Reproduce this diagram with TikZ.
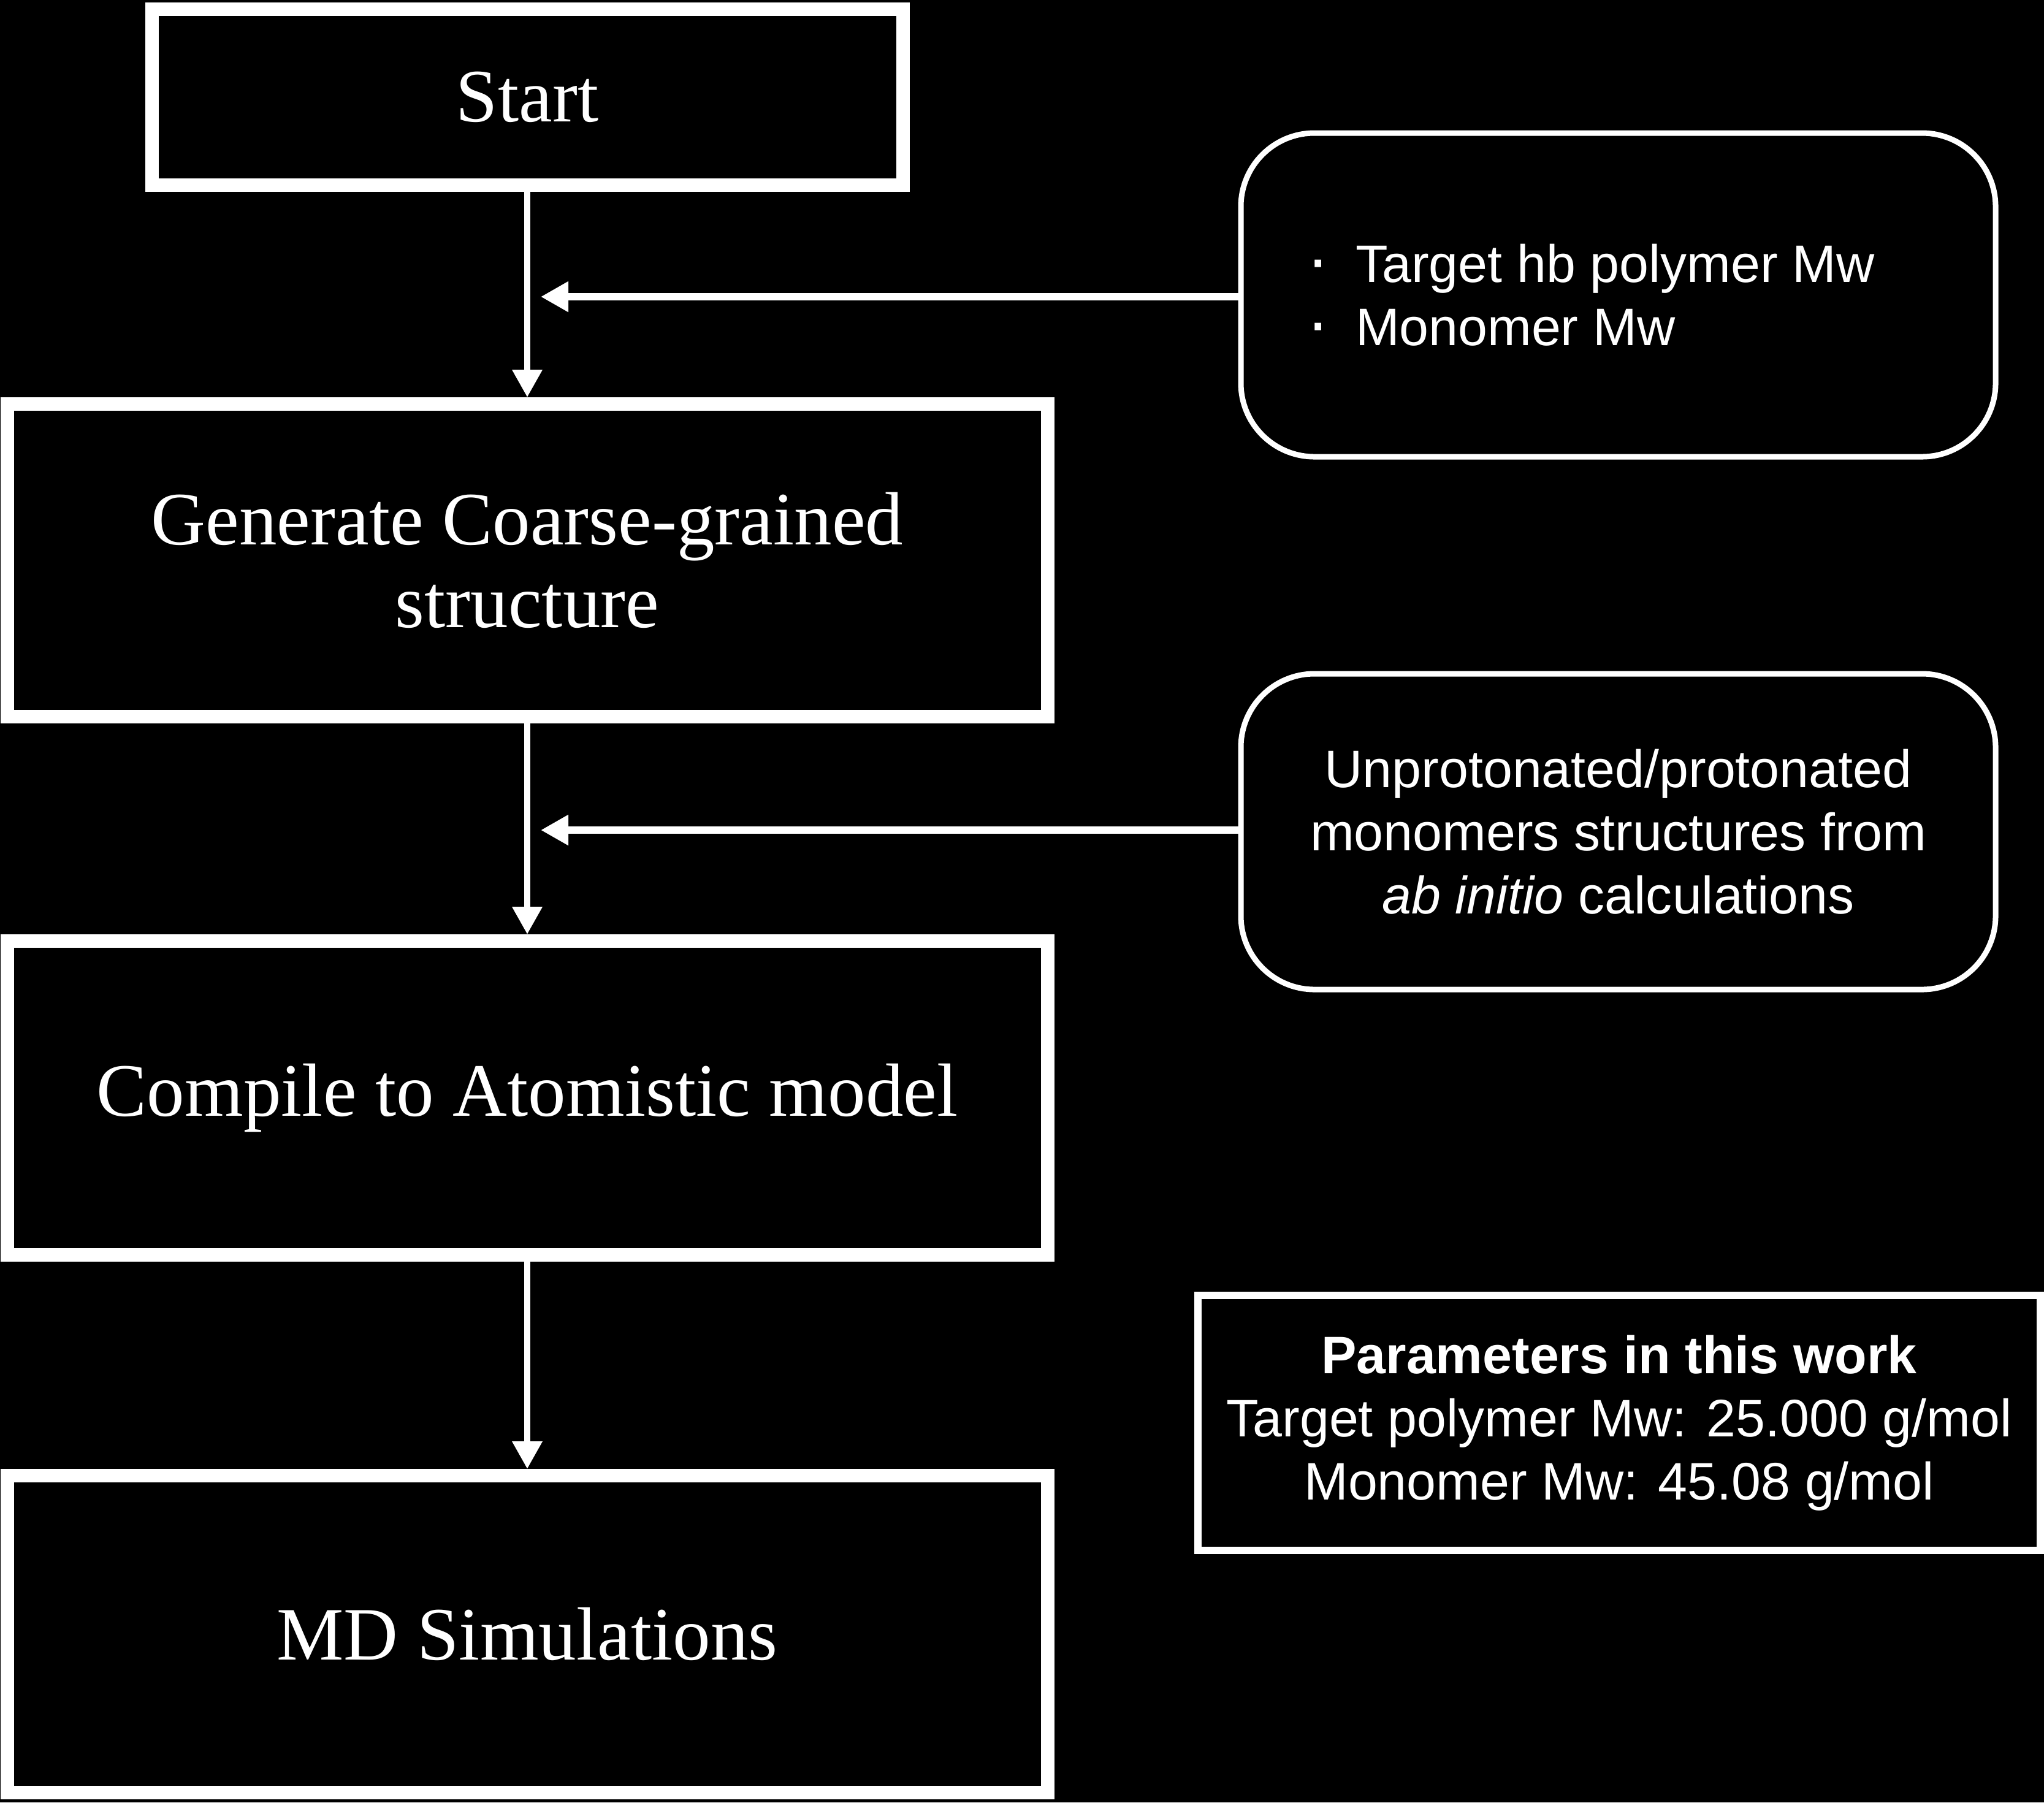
\documentclass[tikz,border=0pt]{standalone}
\usepackage{fontspec}
\setmainfont{Liberation Serif}
\setsansfont{Liberation Sans}
\usetikzlibrary{arrows.meta, positioning, calc}

\begin{document}
\begin{tikzpicture}[
    >={Triangle[length=0.45cm,width=0.47cm]},
    stepnode/.style={draw=white, line width=0.22cm, text=white, align=center, inner sep=0pt, font=\fontsize{35}{38.5}\selectfont},
    inputnode/.style={draw=white, line width=0.09cm, rounded corners=1.2cm, text=white, inner sep=0pt, minimum width=12.31cm, font=\sffamily\fontsize{24.5}{29.3}\selectfont},
    parnode/.style={draw=white, line width=0.12cm, text=white, align=center, inner sep=0pt, font=\sffamily\fontsize{24.5}{29.3}\selectfont},
    flow/.style={white, line width=0.1cm, ->}
]

% Background
\useasboundingbox (0,0) rectangle (33.34,-29.40);
\fill[black] (0,0) rectangle (33.34,-29.40);

% Main steps
\node[stepnode, minimum width=12.25cm, minimum height=2.87cm] (start) at (8.6,-1.585) {Start};
\node[stepnode, minimum width=16.97cm, minimum height=5.10cm] (cg) at (8.6,-9.14) {Generate Coarse-grained\\structure};
\node[stepnode, minimum width=16.97cm, minimum height=5.12cm] (atom) at (8.6,-17.91) {Compile to Atomistic model};
\node[stepnode, minimum width=16.97cm, minimum height=5.17cm] (md) at (8.6,-26.655) {MD Simulations};

% Inputs
\node[inputnode, align=left, minimum height=5.28cm] (inA) at (26.395,-4.81)
    {\makebox[0.8cm][l]{\scalebox{1.3}{·}}Target hb polymer Mw\hspace*{0.9cm}\\\makebox[0.8cm][l]{\scalebox{1.3}{·}}Monomer Mw};
\node[inputnode, align=center, minimum height=5.15cm] (inB) at (26.395,-13.565)
    {Unprotonated/protonated\\monomers structures from\\\textit{ab initio} calculations};

% Parameters
\node[parnode, minimum width=13.74cm, minimum height=4.16cm] (par) at (26.41,-23.21)
    {\textbf{Parameters in this work}\\Target polymer Mw: 25.000 g/mol\\Monomer Mw: 45.08 g/mol};

% Flow
\draw[flow] (start.south) -- (cg.north);
\draw[flow] (cg.south) -- (atom.north);
\draw[flow] (atom.south) -- (md.north);

% Input arrows
\coordinate (tipA) at (8.82,-4.84);
\coordinate (tipB) at (8.82,-13.54);
\draw[flow, line width=0.12cm] (inA.west |- tipA) -- (tipA);
\draw[flow, line width=0.12cm] (inB.west |- tipB) -- (tipB);

\end{tikzpicture}
\end{document}
